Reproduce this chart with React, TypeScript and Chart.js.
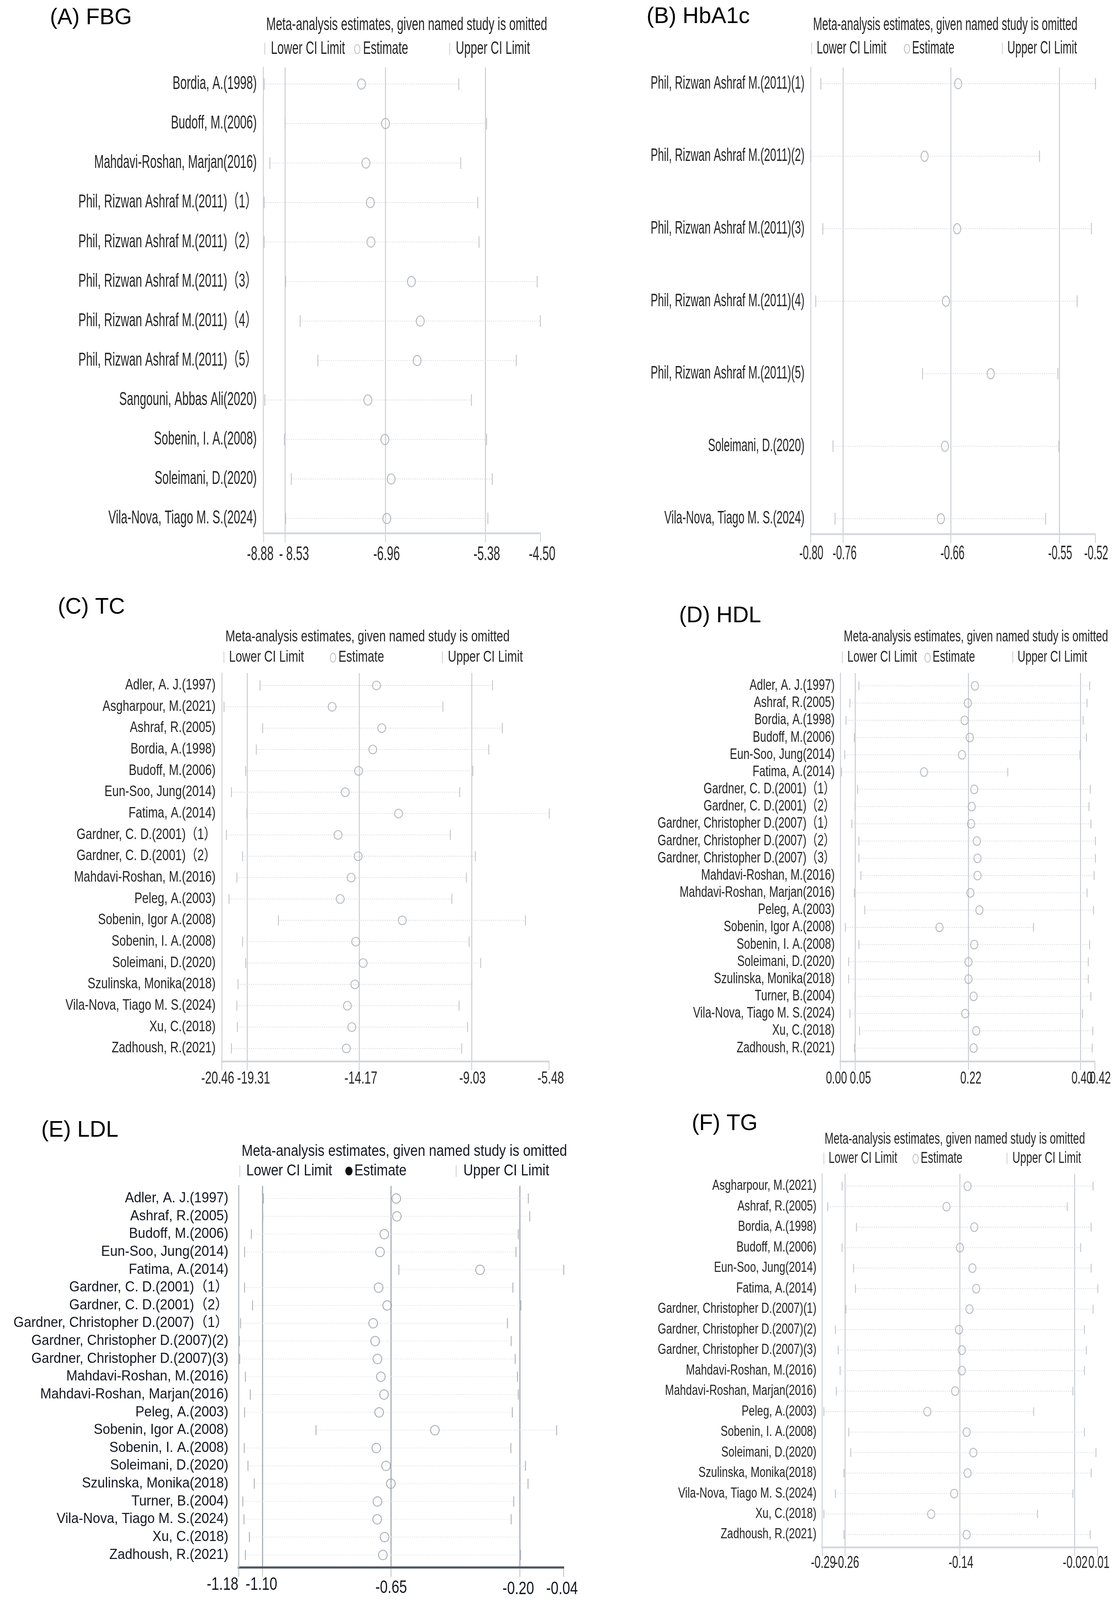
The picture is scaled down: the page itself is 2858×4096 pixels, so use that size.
import React, { useEffect, useRef } from 'react';
import { Chart, registerables } from 'chart.js';
Chart.register(...registerables);

const S = 0.925;
const FONT = "'Liberation Sans', Arial, 'Noto Sans CJK SC', sans-serif";
const HEADER = 'Meta-analysis estimates, given named study is omitted';
const LEGEND_LOWER = 'Lower CI Limit';
const LEGEND_EST = 'Estimate';
const LEGEND_UPPER = 'Upper CI Limit';

// ---------------- (A) FBG ----------------
const fbgStudies = [
  'Bordia, A.(1998)', 'Budoff, M.(2006)', 'Mahdavi-Roshan, Marjan(2016)',
  'Phil, Rizwan Ashraf M.(2011)（1）', 'Phil, Rizwan Ashraf M.(2011)（2）',
  'Phil, Rizwan Ashraf M.(2011)（3）', 'Phil, Rizwan Ashraf M.(2011)（4）',
  'Phil, Rizwan Ashraf M.(2011)（5）', 'Sangouni, Abbas Ali(2020)',
  'Sobenin, I. A.(2008)', 'Soleimani, D.(2020)', 'Vila-Nova, Tiago M. S.(2024)',
];
const fbgEstimate = [-7.33, -6.95, -7.26, -7.19, -7.18, -6.54, -6.40, -6.45, -7.23, -6.96, -6.86, -6.93];
const fbgLower = [-8.87, -8.54, -8.78, -8.87, -8.87, -8.53, -8.30, -8.02, -8.86, -8.55, -8.44, -8.53];
const fbgUpper = [-5.79, -5.35, -5.76, -5.49, -5.47, -4.55, -4.50, -4.88, -5.59, -5.35, -5.26, -5.33];
const fbgTickValues = [-8.88, -8.54, -6.95, -5.37, -4.50];
const fbgTickLabels = ['-8.88', '- 8.53', '-6.96', '-5.38', '-4.50'];

// ---------------- (B) HbA1c ----------------
const hbStudies = [
  'Phil, Rizwan Ashraf M.(2011)(1)', 'Phil, Rizwan Ashraf M.(2011)(2)',
  'Phil, Rizwan Ashraf M.(2011)(3)', 'Phil, Rizwan Ashraf M.(2011)(4)',
  'Phil, Rizwan Ashraf M.(2011)(5)', 'Soleimani, D.(2020)', 'Vila-Nova, Tiago M. S.(2024)',
];
const hbEstimate = [-0.655, -0.688, -0.656, -0.667, -0.623, -0.668, -0.672];
const hbLower = [-0.790, -0.800, -0.788, -0.795, -0.690, -0.778, -0.776];
const hbUpper = [-0.520, -0.575, -0.524, -0.538, -0.557, -0.556, -0.569];
const hbTickValues = [-0.80, -0.768, -0.662, -0.5554, -0.52];
const hbTickLabels = ['-0.80', '-0.76', '-0.66', '-0.55', '-0.52'];

// ---------------- (C) TC ----------------
const tcStudies = [
  'Adler, A. J.(1997)', 'Asgharpour, M.(2021)', 'Ashraf, R.(2005)', 'Bordia, A.(1998)',
  'Budoff, M.(2006)', 'Eun-Soo, Jung(2014)', 'Fatima, A.(2014)', 'Gardner, C. D.(2001)（1）',
  'Gardner, C. D.(2001)（2）', 'Mahdavi-Roshan, M.(2016)', 'Peleg, A.(2003)',
  'Sobenin, Igor A.(2008)', 'Sobenin, I. A.(2008)', 'Soleimani, D.(2020)',
  'Szulinska, Monika(2018)', 'Vila-Nova, Tiago M. S.(2024)', 'Xu, C.(2018)', 'Zadhoush, R.(2021)',
];
const tcEstimate = [-13.39, -15.42, -13.15, -13.56, -14.21, -14.82, -12.38, -15.15, -14.23, -14.55, -15.05, -12.21, -14.34, -14.00, -14.38, -14.72, -14.52, -14.77];
const tcLower = [-18.72, -20.37, -18.60, -18.89, -19.38, -20.03, -19.32, -20.26, -19.52, -19.78, -20.14, -17.88, -19.52, -19.38, -19.73, -19.78, -19.76, -20.03];
const tcUpper = [-8.08, -10.35, -7.63, -8.25, -8.98, -9.58, -5.48, -10.01, -8.86, -9.27, -9.94, -6.57, -9.15, -8.62, -9.03, -9.61, -9.22, -9.49];
const tcTickValues = [-20.46, -19.31, -14.17, -9.03, -5.48];
const tcTickLabels = ['-20.46', '-19.31', '-14.17', '-9.03', '-5.48'];

// ---------------- (D) HDL ----------------
const hdlStudies = [
  'Adler, A. J.(1997)', 'Ashraf, R.(2005)', 'Bordia, A.(1998)', 'Budoff, M.(2006)',
  'Eun-Soo, Jung(2014)', 'Fatima, A.(2014)', 'Gardner, C. D.(2001)（1）', 'Gardner, C. D.(2001)（2）',
  'Gardner, Christopher D.(2007)（1）', 'Gardner, Christopher D.(2007)（2）',
  'Gardner, Christopher D.(2007)（3）', 'Mahdavi-Roshan, M.(2016)', 'Mahdavi-Roshan, Marjan(2016)',
  'Peleg, A.(2003)', 'Sobenin, Igor A.(2008)', 'Sobenin, I. A.(2008)', 'Soleimani, D.(2020)',
  'Szulinska, Monika(2018)', 'Turner, B.(2004)', 'Vila-Nova, Tiago M. S.(2024)', 'Xu, C.(2018)',
  'Zadhoush, R.(2021)',
];
const hdlEstimate = [0.236, 0.225, 0.220, 0.228, 0.216, 0.157, 0.235, 0.231, 0.230, 0.239, 0.240, 0.240, 0.229, 0.243, 0.181, 0.235, 0.226, 0.226, 0.234, 0.221, 0.238, 0.234];
const hdlLower = [0.056, 0.042, 0.036, 0.049, 0.034, 0.029, 0.054, 0.050, 0.045, 0.056, 0.056, 0.059, 0.049, 0.065, 0.035, 0.056, 0.040, 0.040, 0.050, 0.042, 0.057, 0.049];
const hdlUpper = [0.414, 0.410, 0.404, 0.409, 0.399, 0.287, 0.415, 0.413, 0.416, 0.423, 0.423, 0.421, 0.410, 0.420, 0.327, 0.414, 0.412, 0.412, 0.416, 0.403, 0.419, 0.418];
const hdlTickValues = [0.0274, 0.05, 0.2258, 0.40, 0.4226];
const hdlTickLabels = ['0.00', '0.05', '0.22', '0.40', '0.42'];

// ---------------- (E) LDL ----------------
const ldlStudies = [
  'Adler, A. J.(1997)', 'Ashraf, R.(2005)', 'Budoff, M.(2006)', 'Eun-Soo, Jung(2014)',
  'Fatima, A.(2014)', 'Gardner, C. D.(2001)（1）', 'Gardner, C. D.(2001)（2）',
  'Gardner, Christopher D.(2007)（1）', 'Gardner, Christopher D.(2007)(2)',
  'Gardner, Christopher D.(2007)(3)', 'Mahdavi-Roshan, M.(2016)', 'Mahdavi-Roshan, Marjan(2016)',
  'Peleg, A.(2003)', 'Sobenin, Igor A.(2008)', 'Sobenin, I. A.(2008)', 'Soleimani, D.(2020)',
  'Szulinska, Monika(2018)', 'Turner, B.(2004)', 'Vila-Nova, Tiago M. S.(2024)', 'Xu, C.(2018)',
  'Zadhoush, R.(2021)',
];
const ldlEstimate = [-0.632, -0.630, -0.674, -0.689, -0.339, -0.694, -0.664, -0.713, -0.706, -0.698, -0.686, -0.675, -0.692, -0.497, -0.702, -0.668, -0.651, -0.698, -0.699, -0.673, -0.679];
const ldlLower = [-1.097, -1.099, -1.139, -1.163, -0.623, -1.163, -1.135, -1.177, -1.181, -1.180, -1.160, -1.143, -1.163, -0.913, -1.164, -1.151, -1.129, -1.169, -1.165, -1.146, -1.160];
const ldlUpper = [-0.170, -0.165, -0.205, -0.213, -0.046, -0.224, -0.196, -0.243, -0.230, -0.216, -0.208, -0.205, -0.226, -0.071, -0.231, -0.180, -0.171, -0.221, -0.230, -0.200, -0.197];
const ldlTickValues = [-1.183, -1.10, -0.65, -0.20, -0.047];
const ldlTickLabels = ['-1.18', '-1.10', '-0.65', '-0.20', '-0.04'];

// ---------------- (F) TG ----------------
const tgStudies = [
  'Asgharpour, M.(2021)', 'Ashraf, R.(2005)', 'Bordia, A.(1998)', 'Budoff, M.(2006)',
  'Eun-Soo, Jung(2014)', 'Fatima, A.(2014)', 'Gardner, Christopher D.(2007)(1)',
  'Gardner, Christopher D.(2007)(2)', 'Gardner, Christopher D.(2007)(3)',
  'Mahdavi-Roshan, M.(2016)', 'Mahdavi-Roshan, Marjan(2016)', 'Peleg, A.(2003)',
  'Sobenin, I. A.(2008)', 'Soleimani, D.(2020)', 'Szulinska, Monika(2018)',
  'Vila-Nova, Tiago M. S.(2024)', 'Xu, C.(2018)', 'Zadhoush, R.(2021)',
];
const tgEstimate = [-0.132, -0.154, -0.125, -0.140, -0.127, -0.123, -0.130, -0.141, -0.138, -0.138, -0.145, -0.174, -0.133, -0.126, -0.132, -0.146, -0.170, -0.133];
const tgLower = [-0.263, -0.278, -0.248, -0.263, -0.251, -0.249, -0.259, -0.270, -0.267, -0.265, -0.269, -0.282, -0.256, -0.254, -0.261, -0.270, -0.282, -0.261];
const tgUpper = [-0.001, -0.028, -0.003, -0.014, -0.003, 0.004, -0.001, -0.010, -0.008, -0.010, -0.022, -0.063, -0.010, 0.002, -0.003, -0.022, -0.059, -0.004];
const tgTickValues = [-0.2837, -0.26, -0.14, -0.02, 0.004];
const tgTickLabels = ['-0.29', '-0.26', '-0.14', '-0.02', '0.01'];

// ---------------- styles / layout (reference pixel units) ----------------
const lightStyle = {
  labelColor: '#262626', tickColor: '#262626', headColor: '#262626',
  gridColor: '#c6cbd2', gridW: 2.5, yAxisColor: '#d2d6db', yAxisW: 3,
  axisColor: '#d4d8dd', axisW: 5, tickMarkColor: '#c4c9cf', tickLen: 24,
  rowColor: '#d6d9dd', rowW: 2, dash: 3, endTickColor: '#c3c7cc', endTickW: 2.5,
  markerColor: '#a6abb1', markerW: 2, legendDot: 'open',
};
const darkStyle = {
  ...lightStyle,
  labelColor: '#141922', tickColor: '#141922', headColor: '#141922',
  gridColor: '#a3aab2', gridW: 3, yAxisColor: '#b5bbc2', yAxisW: 3,
  axisColor: '#505962', axisW: 6, tickMarkColor: '#b5bbc2', tickLen: 26,
  rowColor: '#e2e4e7', endTickColor: '#adb3ba', markerColor: '#959ea8', legendDot: 'filled',
};

const panels = [
  {
    key: 'A', letter: '(A) FBG', letterX: 138, letterY: 67,
    studies: fbgStudies, estimate: fbgEstimate, lower: fbgLower, upper: fbgUpper,
    tickValues: fbgTickValues, tickLabels: fbgTickLabels,
    tickDx: [-9, 25, 3, 4, 5], tickDy: [0, 0, 0, 0, 0],
    box: [0, 0, 1610, 1590], area: [729.6, 186.7, 1495.9, 1476.5], padTop: 0.42, padBottom: 0.38,
    labelFont: 51, labelSx: 0.628, labelGap: 18.6, tickFont: 53, tickSx: 0.61, tickY: 1536,
    header: { x: 737, y: 69, w: 778, font: 50 },
    legend: { y: 135, bar1: 733, lower: 750, circ: 989, est: 1005, bar2: 1245, upper: 1262 },
    marker: { rx: 11, ry: 14 }, endTick: 32, style: lightStyle,
  },
  {
    key: 'B', letter: '(B) HbA1c', letterX: 1790, letterY: 64,
    studies: hbStudies, estimate: hbEstimate, lower: hbLower, upper: hbUpper,
    tickValues: hbTickValues, tickLabels: hbTickLabels,
    tickDx: [2, 4, 4, 2, 2], tickDy: [0, 0, 0, 0, 0],
    box: [1610, 0, 1478, 1590], area: [2244.3, 186.7, 3032.9, 1478.6], padTop: 0.224, padBottom: 0.214,
    labelFont: 49, labelSx: 0.617, labelGap: 17, tickFont: 53, tickSx: 0.55, tickY: 1534,
    header: { x: 2251, y: 69, w: 732, font: 50 },
    legend: { y: 134, bar1: 2247, lower: 2261, circ: 2511, est: 2525, bar2: 2775, upper: 2789 },
    marker: { rx: 10, ry: 14 }, endTick: 32, style: lightStyle,
  },
  {
    key: 'C', letter: '(C) TC', letterX: 160, letterY: 1698,
    studies: tcStudies, estimate: tcEstimate, lower: tcLower, upper: tcUpper,
    tickValues: tcTickValues, tickLabels: tcTickLabels,
    tickDx: [-12, 18, 4, 2, 4], tickDy: [0, 0, 0, 0, 0],
    box: [0, 1590, 1610, 1450], area: [614.7, 1862.7, 1520.7, 2937.9], padTop: 0.58, padBottom: 0.614,
    labelFont: 41, labelSx: 0.79, labelGap: 17.7, tickFont: 47, tickSx: 0.685, tickY: 2986,
    header: { x: 624, y: 1763, w: 787, font: 43 },
    legend: { y: 1819, bar1: 620, lower: 634, circ: 922, est: 937, bar2: 1225, upper: 1240 },
    marker: { rx: 11, ry: 12 }, endTick: 28, style: lightStyle,
  },
  {
    key: 'D', letter: '(D) HDL', letterX: 1880, letterY: 1722,
    studies: hdlStudies, estimate: hdlEstimate, lower: hdlLower, upper: hdlUpper,
    tickValues: hdlTickValues, tickLabels: hdlTickLabels,
    tickDx: [-11, 15, 7, 4, 14], tickDy: [0, 0, 0, 0, 0],
    box: [1610, 1590, 1478, 1450], area: [2326.9, 1862.7, 3032, 2937.9], padTop: 0.74, padBottom: 0.78,
    labelFont: 41, labelSx: 0.745, labelGap: 16, tickFont: 47, tickSx: 0.64, tickY: 2986,
    header: { x: 2336, y: 1763, w: 732, font: 43 },
    legend: { y: 1819, bar1: 2332, lower: 2346, circ: 2568, est: 2582, bar2: 2804, upper: 2817 },
    marker: { rx: 10, ry: 12 }, endTick: 24, style: lightStyle,
  },
  {
    key: 'E', letter: '(E) LDL', letterX: 114, letterY: 3145.6,
    studies: ldlStudies, estimate: ldlEstimate, lower: ldlLower, upper: ldlUpper,
    tickValues: ldlTickValues, tickLabels: ldlTickLabels,
    tickDx: [-45, -3, 0, -4, -4], tickDy: [-5, -5, 3, 6, 6],
    box: [0, 3040, 1610, 1386], area: [661.2, 3281.9, 1560, 4338.4], padTop: 0.71, padBottom: 0.71,
    labelFont: 39, labelSx: 0.95, labelGap: 29, tickFont: 49, tickSx: 0.785, tickY: 4392,
    header: { x: 669, y: 3187, w: 901, font: 43 },
    legend: { y: 3241, bar1: 664, lower: 682, circ: 966, est: 981, bar2: 1263, upper: 1283 },
    marker: { rx: 12, ry: 13 }, endTick: 28, style: darkStyle,
  },
  {
    key: 'F', letter: '(F) TG', letterX: 1915, letterY: 3127.6,
    studies: tgStudies, estimate: tgEstimate, lower: tgLower, upper: tgUpper,
    tickValues: tgTickValues, tickLabels: tgTickLabels,
    tickDx: [3, 5, 3, 1, 3], tickDy: [0, 0, 0, 0, 0],
    box: [1610, 3040, 1478, 1386], area: [2276.4, 3248.7, 3039.5, 4282.8], padTop: 0.60, padBottom: 0.63,
    labelFont: 39, labelSx: 0.765, labelGap: 16, tickFont: 47, tickSx: 0.64, tickY: 4327,
    header: { x: 2283, y: 3153, w: 721, font: 43 },
    legend: { y: 3206, bar1: 2281, lower: 2294, circ: 2535, est: 2549, bar2: 2788, upper: 2803 },
    marker: { rx: 10, ry: 12 }, endTick: 24, style: lightStyle,
  },
];

function ellipseMarker(rx: number, ry: number, color: string, lw: number) {
  const w = Math.ceil(2 * rx * S + lw * S * 2 + 4);
  const h = Math.ceil(2 * ry * S + lw * S * 2 + 4);
  const c = document.createElement('canvas');
  c.width = w;
  c.height = h;
  const g = c.getContext('2d')!;
  g.strokeStyle = color;
  g.lineWidth = lw * S;
  g.beginPath();
  g.ellipse(w / 2, h / 2, rx * S, ry * S, 0, 0, Math.PI * 2);
  g.stroke();
  return c;
}

function buildConfig(p: any): any {
  const st = p.style;
  const left0 = Math.round(p.box[0] * S);
  const top0 = Math.round(p.box[1] * S);
  const W = Math.round(p.box[2] * S);
  const H = Math.round(p.box[3] * S);
  const X = (rx: number) => rx * S - left0;
  const Y = (ry: number) => ry * S - top0;
  const n = p.studies.length;
  const last = p.tickValues.length - 1;
  const axisH = 30;
  const marker = ellipseMarker(p.marker.rx, p.marker.ry, st.markerColor, st.markerW);

  const datasets: any[] = [
    {
      label: 'Estimate',
      data: p.estimate.map((v: number, i: number) => ({ x: v, y: i + 1 })),
      pointStyle: marker,
      pointRadius: 6,
      showLine: false,
      clip: false,
      order: 0,
    },
    ...p.lower.map((lo: number, i: number) => ({
      label: 'CI ' + (i + 1),
      data: [{ x: lo, y: i + 1 }, { x: p.upper[i], y: i + 1 }],
      showLine: true,
      borderColor: st.rowColor,
      borderWidth: st.rowW * S,
      borderDash: [st.dash * S, st.dash * S],
      pointStyle: 'line',
      pointRotation: 90,
      pointRadius: (p.endTick / 2) * S,
      pointBorderWidth: st.endTickW * S,
      pointBorderColor: st.endTickColor,
      pointBackgroundColor: st.endTickColor,
      clip: false,
      order: 1,
    })),
  ];

  const put = (ctx: CanvasRenderingContext2D, s: string, x: number, y: number, size: number, sx: number, align: CanvasTextAlign, color: string) => {
    ctx.save();
    ctx.font = `${size}px ${FONT}`;
    ctx.fillStyle = color;
    ctx.textAlign = align;
    ctx.textBaseline = 'middle';
    ctx.translate(x, y);
    ctx.scale(sx, 1);
    ctx.fillText(s, 0, 0);
    ctx.restore();
  };

  const textPlugin = {
    id: 'panelText' + p.key,
    afterDraw(chart: any) {
      const ctx: CanvasRenderingContext2D = chart.ctx;
      const xs = chart.scales.x;
      const ys = chart.scales.y;
      const ca = chart.chartArea;
      // study labels
      p.studies.forEach((s: string, i: number) => {
        put(ctx, s, ca.left - p.labelGap * S, ys.getPixelForValue(i + 1), p.labelFont * S, p.labelSx, 'right', st.labelColor);
      });
      // x tick labels
      p.tickLabels.forEach((s: string, i: number) => {
        put(ctx, s, xs.getPixelForValue(p.tickValues[i]) + p.tickDx[i] * S, Y(p.tickY + p.tickDy[i]), p.tickFont * S, p.tickSx, 'center', st.tickColor);
      });
      // header
      ctx.save();
      ctx.font = `${p.header.font * S}px ${FONT}`;
      const hsx = (p.header.w * S) / ctx.measureText(HEADER).width;
      ctx.restore();
      put(ctx, HEADER, X(p.header.x), Y(p.header.y), p.header.font * S, hsx, 'left', st.headColor);
      // legend
      const L = p.legend;
      const ly = Y(L.y);
      const bar = (bx: number) => {
        ctx.save();
        ctx.strokeStyle = '#c8cbd0';
        ctx.lineWidth = 2 * S;
        ctx.beginPath();
        ctx.moveTo(X(bx), ly - 16 * S);
        ctx.lineTo(X(bx), ly + 16 * S);
        ctx.stroke();
        ctx.restore();
      };
      bar(L.bar1);
      put(ctx, LEGEND_LOWER, X(L.lower), ly, p.header.font * S, hsx, 'left', st.headColor);
      ctx.save();
      ctx.beginPath();
      if (st.legendDot === 'filled') {
        ctx.fillStyle = '#111';
        ctx.ellipse(X(L.circ), ly, 10 * S, 12 * S, 0, 0, Math.PI * 2);
        ctx.fill();
      } else {
        ctx.strokeStyle = '#b0b4b9';
        ctx.lineWidth = 1.8 * S;
        ctx.ellipse(X(L.circ), ly + 1 * S, 7.5 * S, 12.5 * S, 0, 0, Math.PI * 2);
        ctx.stroke();
      }
      ctx.restore();
      put(ctx, LEGEND_EST, X(L.est), ly, p.header.font * S, hsx, 'left', st.headColor);
      bar(L.bar2);
      put(ctx, LEGEND_UPPER, X(L.upper), ly, p.header.font * S, hsx, 'left', st.headColor);
      // panel letter
      ctx.save();
      ctx.font = `${62 * S}px ${FONT}`;
      ctx.fillStyle = '#000';
      ctx.textAlign = 'left';
      ctx.textBaseline = 'alphabetic';
      ctx.fillText(p.letter, X(p.letterX), Y(p.letterY));
      ctx.restore();
    },
  };

  return {
    type: 'scatter',
    data: { datasets },
    plugins: [textPlugin],
    options: {
      animation: false,
      responsive: false,
      devicePixelRatio: 1,
      events: [],
      layout: {
        padding: {
          left: X(p.area[0]),
          top: Y(p.area[1]),
          right: W - X(p.area[2]),
          bottom: H - Y(p.area[3]) - axisH,
        },
      },
      plugins: { legend: { display: false }, tooltip: { enabled: false }, title: { display: false } },
      scales: {
        x: {
          type: 'linear',
          min: p.tickValues[0],
          max: p.tickValues[last],
          afterBuildTicks: (sc: any) => {
            sc.ticks = p.tickValues.map((v: number) => ({ value: v }));
          },
          afterFit: (sc: any) => {
            sc.height = axisH;
          },
          ticks: { display: false },
          grid: {
            display: true,
            drawOnChartArea: true,
            drawTicks: true,
            color: (c: any) => (c.index === 0 || c.index === last ? 'rgba(0,0,0,0)' : st.gridColor),
            lineWidth: st.gridW * S,
            tickColor: st.tickMarkColor,
            tickWidth: 2 * S,
            tickLength: st.tickLen * S,
          },
          border: { display: true, color: st.axisColor, width: st.axisW * S },
        },
        y: {
          type: 'linear',
          reverse: true,
          min: 1 - p.padTop,
          max: n + p.padBottom,
          afterFit: (sc: any) => {
            sc.width = 0;
          },
          ticks: { display: false },
          grid: { display: false },
          border: { display: true, color: st.yAxisColor, width: st.yAxisW * S },
        },
      },
    },
  };
}

function Panel({ p }: { p: any }) {
  const ref = useRef<HTMLCanvasElement>(null);
  useEffect(() => {
    const chart = new Chart(ref.current as HTMLCanvasElement, buildConfig(p));
    return () => chart.destroy();
  }, [p]);
  const left = Math.round(p.box[0] * S);
  const top = Math.round(p.box[1] * S);
  const w = Math.round(p.box[2] * S);
  const h = Math.round(p.box[3] * S);
  return (
    <canvas
      ref={ref}
      width={w}
      height={h}
      style={{ position: 'absolute', left, top, width: w, height: h, display: 'block' }}
    />
  );
}

export default function App() {
  return (
    <div style={{ position: 'absolute', left: 0, top: 0, width: 2858, height: 4096, background: '#ffffff', overflow: 'hidden' }}>
      {panels.map((p) => (
        <Panel key={p.key} p={p} />
      ))}
    </div>
  );
}
